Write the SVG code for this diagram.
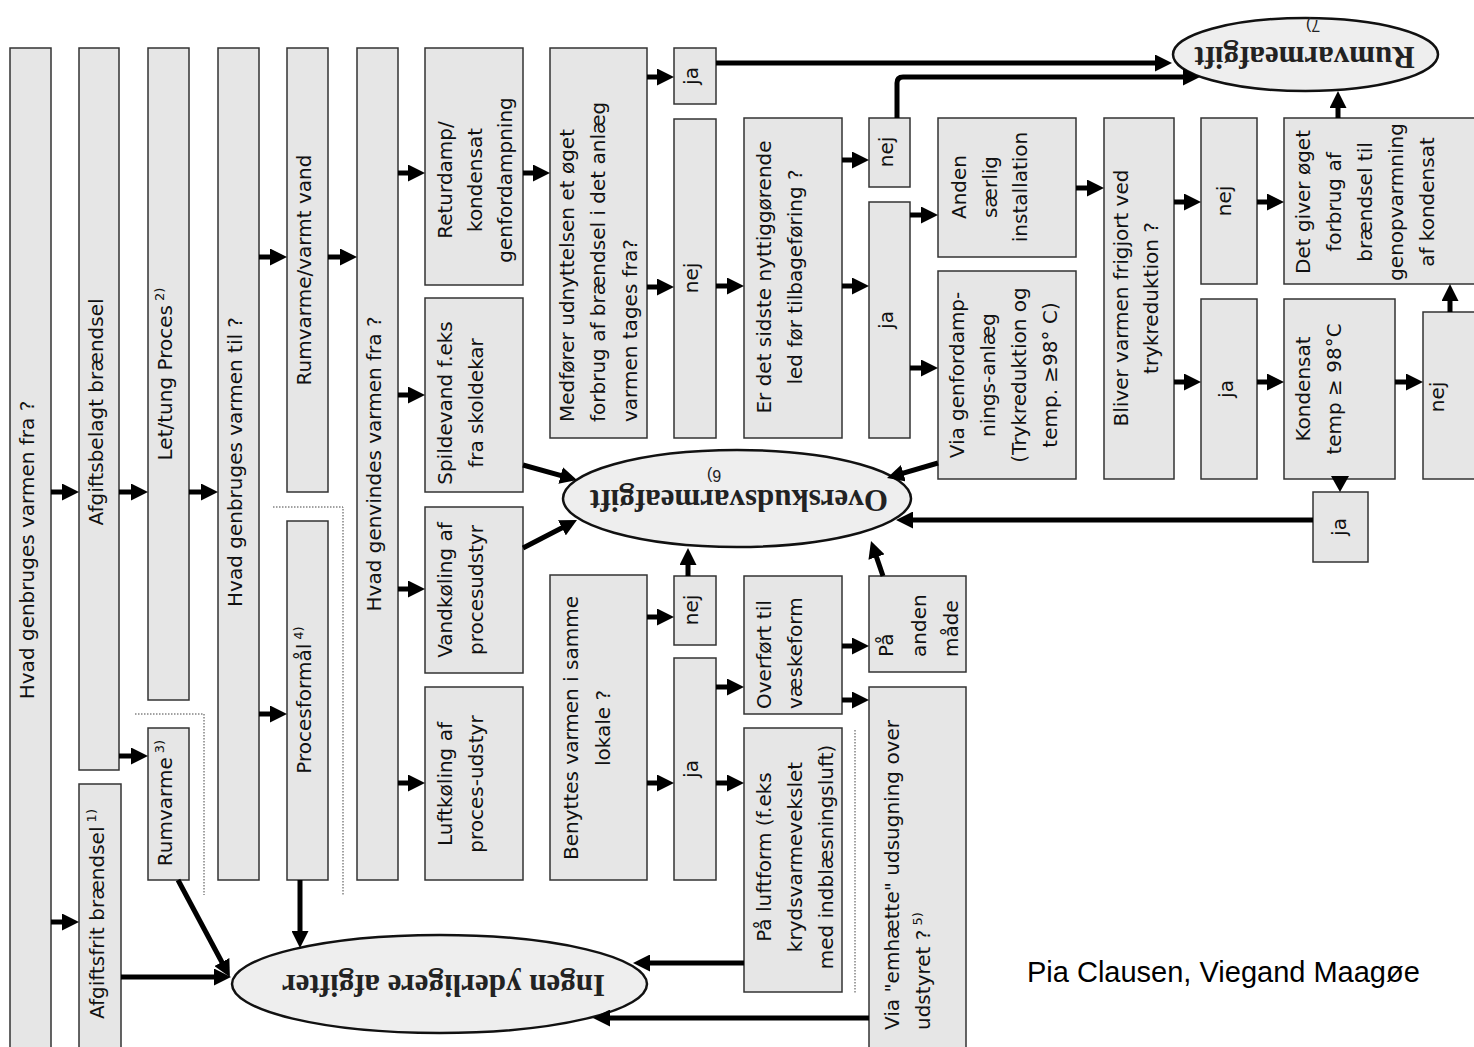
<svg xmlns="http://www.w3.org/2000/svg" width="1474" height="1047" viewBox="0 0 1474 1047">
<style>
.b{fill:#e6e6e6;stroke:#333;stroke-width:1.5}
.el{fill:#eeeeee;stroke:#111;stroke-width:2.5}
.t{font-family:"DejaVu Sans",sans-serif;font-size:20px;fill:#111}
.st{text-anchor:start}
.m{text-anchor:middle}
.s{font-size:13px}
.e{font-family:"Liberation Serif",serif;font-weight:bold;font-size:31px;fill:#222;text-anchor:middle}
.en{font-family:"Liberation Sans",sans-serif;font-size:16px;fill:#222;text-anchor:middle}
.c{stroke:#000;stroke-width:5;fill:none;marker-end:url(#ah)}
.d{stroke:#444;stroke-width:1;stroke-dasharray:1.5 1.5;fill:none}
</style>
<defs>
<marker id="ah" markerUnits="userSpaceOnUse" viewBox="0 0 17 17" markerWidth="17" markerHeight="17" refX="9" refY="8.5" orient="auto"><path d="M0,0 L17,8.5 L0,17 z" fill="#000"/></marker>
</defs>
<rect width="1474" height="1047" fill="#fff"/>

<g id="n1"><rect class="b" x="10" y="48" width="41" height="1002"/><text class="t m" transform="translate(34,550) rotate(-90)">Hvad genbruges varmen fra ?</text></g>
<g id="n2"><rect class="b" x="79" y="48" width="40" height="722"/><text class="t m" transform="translate(103,412) rotate(-90)">Afgiftsbelagt brændsel</text></g>
<g id="n3"><rect class="b" x="79" y="784" width="42" height="266"/><text class="t m" transform="translate(104,914) rotate(-90)">Afgiftsfrit brændsel<tspan class="s" dy="-8"> 1)</tspan></text></g>
<g id="n4"><rect class="b" x="148" y="48" width="41" height="652"/><text class="t m" transform="translate(172,374) rotate(-90)">Let/tung Proces<tspan class="s" dy="-8"> 2)</tspan></text></g>
<g id="n5"><rect class="b" x="148" y="728" width="41" height="152"/><text class="t m" transform="translate(172,803) rotate(-90)">Rumvarme<tspan class="s" dy="-8"> 3)</tspan></text></g>
<g id="n6"><rect class="b" x="218" y="48" width="41" height="832"/><text class="t m" transform="translate(242,462) rotate(-90)">Hvad genbruges varmen til ?</text></g>
<g id="n7"><rect class="b" x="287" y="48" width="41" height="444"/><text class="t m" transform="translate(311,270) rotate(-90)">Rumvarme/varmt vand</text></g>
<g id="n8"><rect class="b" x="287" y="521" width="41" height="359"/><text class="t m" transform="translate(311,700) rotate(-90)">Procesformål<tspan class="s" dy="-8"> 4)</tspan></text></g>
<g id="n9"><rect class="b" x="357" y="48" width="41" height="832"/><text class="t m" transform="translate(381,464) rotate(-90)">Hvad genvindes varmen fra ?</text></g>

<g id="n10"><rect class="b" x="425" y="48" width="98" height="237"/><text class="t m" transform="translate(452,180) rotate(-90)"><tspan x="0" y="0">Returdamp/</tspan><tspan x="0" y="30">kondensat</tspan><tspan x="0" y="60">genfordampning</tspan></text></g>
<g id="n11"><rect class="b" x="425" y="298" width="98" height="194"/><text class="t m" transform="translate(452,403) rotate(-90)"><tspan x="0" y="0">Spildevand f.eks</tspan><tspan x="0" y="31">fra skoldekar</tspan></text></g>
<g id="n12"><rect class="b" x="425" y="507" width="98" height="166"/><text class="t m" transform="translate(452,590) rotate(-90)"><tspan x="0" y="0">Vandkøling af</tspan><tspan x="0" y="31">procesudstyr</tspan></text></g>
<g id="n13"><rect class="b" x="425" y="687" width="98" height="193"/><text class="t m" transform="translate(452,784) rotate(-90)"><tspan x="0" y="0">Luftkøling af</tspan><tspan x="0" y="31">proces-udstyr</tspan></text></g>

<g id="n14"><rect class="b" x="550" y="48" width="97" height="390"/><text class="t st" transform="translate(574,422) rotate(-90)"><tspan x="0" y="0">Medfører udnyttelsen et øget</tspan><tspan x="0" y="31">forbrug af brændsel i det anlæg</tspan><tspan x="0" y="63">varmen tages fra?</tspan></text></g>
<g id="n15"><rect class="b" x="550" y="575" width="97" height="305"/><text class="t m" transform="translate(578,728) rotate(-90)"><tspan x="0" y="0">Benyttes varmen i samme</tspan><tspan x="0" y="32">lokale ?</tspan></text></g>

<g id="n16"><rect class="b" x="674" y="48" width="42" height="56"/><text class="t m" transform="translate(698,76) rotate(-90)">ja</text></g>
<g id="n17"><rect class="b" x="674" y="119" width="42" height="319"/><text class="t m" transform="translate(698,278) rotate(-90)">nej</text></g>
<g id="n18"><rect class="b" x="674" y="576" width="42" height="69"/><text class="t m" transform="translate(698,610) rotate(-90)">nej</text></g>
<g id="n19"><rect class="b" x="674" y="658" width="42" height="222"/><text class="t m" transform="translate(698,769) rotate(-90)">ja</text></g>

<g id="n20"><rect class="b" x="744" y="118" width="98" height="320"/><text class="t m" transform="translate(771,277) rotate(-90)"><tspan x="0" y="0">Er det sidste nyttiggørende</tspan><tspan x="0" y="31">led før tilbageføring ?</tspan></text></g>
<g id="n21"><rect class="b" x="869" y="118" width="41" height="69"/><text class="t m" transform="translate(893,152) rotate(-90)">nej</text></g>
<g id="n22"><rect class="b" x="869" y="202" width="41" height="236"/><text class="t m" transform="translate(893,320) rotate(-90)">ja</text></g>
<g id="n23"><rect class="b" x="938" y="118" width="138" height="139"/><text class="t m" transform="translate(966,187) rotate(-90)"><tspan x="0" y="0">Anden</tspan><tspan x="0" y="31">særlig</tspan><tspan x="0" y="61">installation</tspan></text></g>
<g id="n24"><rect class="b" x="938" y="271" width="138" height="208"/><text class="t m" transform="translate(964,375) rotate(-90)"><tspan x="0" y="0">Via genfordamp-</tspan><tspan x="0" y="31">nings-anlæg</tspan><tspan x="0" y="62">(Trykreduktion og</tspan><tspan x="0" y="93">temp. ≥98° C)</tspan></text></g>
<g id="n25"><rect class="b" x="1104" y="118" width="70" height="361"/><text class="t m" transform="translate(1128,298) rotate(-90)"><tspan x="0" y="0">Bliver varmen frigjort ved</tspan><tspan x="0" y="30">trykreduktion  ?</tspan></text></g>
<g id="n26"><rect class="b" x="1201" y="118" width="56" height="166"/><text class="t m" transform="translate(1231,201) rotate(-90)">nej</text></g>
<g id="n27"><rect class="b" x="1201" y="299" width="56" height="180"/><text class="t m" transform="translate(1233,389) rotate(-90)">ja</text></g>
<g id="n28"><rect class="b" x="1284" y="118" width="200" height="166"/><text class="t m" transform="translate(1310,202) rotate(-90)"><tspan x="0" y="0">Det giver øget</tspan><tspan x="0" y="31">forbrug af</tspan><tspan x="0" y="62">brændsel til</tspan><tspan x="0" y="93">genopvarmning</tspan><tspan x="0" y="124">af kondensat</tspan></text></g>
<g id="n29"><rect class="b" x="1284" y="299" width="111" height="180"/><text class="t m" transform="translate(1310,389) rotate(-90)"><tspan x="0" y="0">Kondensat</tspan><tspan x="0" y="31">temp ≥ 98°C</tspan></text></g>
<g id="n30"><rect class="b" x="1423" y="312" width="60" height="167"/><text class="t m" transform="translate(1444,397) rotate(-90)">nej</text></g>
<g id="n31"><rect class="b" x="1313" y="492" width="55" height="70"/><text class="t m" transform="translate(1346,527) rotate(-90)">ja</text></g>

<g id="n32"><rect class="b" x="744" y="576" width="98" height="138"/><text class="t st" transform="translate(771,709) rotate(-90)"><tspan x="0" y="0">Overført til</tspan><tspan x="0" y="31">væskeform</tspan></text></g>
<g id="n33"><rect class="b" x="869" y="576" width="97" height="96"/><text class="t st" transform="translate(893,657) rotate(-90)"><tspan x="0" y="0">På</tspan><tspan x="0" y="33">anden</tspan><tspan x="0" y="65">måde</tspan></text></g>
<g id="n34"><rect class="b" x="744" y="728" width="98" height="264"/><text class="t m" transform="translate(771,857) rotate(-90)"><tspan x="0" y="0">På luftform (f.eks</tspan><tspan x="0" y="31">krydsvarmevekslet</tspan><tspan x="0" y="62">med indblæsningsluft)</tspan></text></g>
<g id="n35"><rect class="b" x="869" y="687" width="97" height="365"/><text class="t st" transform="translate(899,1030) rotate(-90)"><tspan x="0" y="0">Via "emhætte" udsugning over</tspan><tspan x="0" y="31">udstyret ?<tspan class="s" dy="-8"> 5)</tspan></tspan></text></g>

<g id="e1"><ellipse class="el" cx="1305.5" cy="54.5" rx="132.5" ry="36.5"/><text class="e" transform="rotate(180 1304.5 47)" x="1304.5" y="47">Rumvarmeafgift</text><text class="en" transform="rotate(180 1313 20)" x="1313" y="20">7)</text></g>
<g id="e2"><ellipse class="el" cx="737" cy="498.5" rx="174" ry="48.5"/><text class="e" transform="rotate(180 739 490)" x="739" y="490">Overskudsvarmeafgift</text><text class="en" transform="rotate(180 714 470)" x="714" y="470">6)</text></g>
<g id="e3"><ellipse class="el" cx="439.5" cy="984" rx="207.5" ry="49"/><text class="e" transform="rotate(180 443.5 975)" x="443.5" y="975">Ingen yderligere afgifter</text></g>

<g id="dotted">
<polyline class="d" points="135,714 204,714 204,895"/>
<polyline class="d" points="273,507 343,507 343,895"/>
<line class="d" x1="855" y1="730" x2="855" y2="993"/>
</g>

<g id="connectors">
<line class="c" x1="51" y1="492" x2="71" y2="492"/>
<line class="c" x1="51" y1="922" x2="71" y2="922"/>
<line class="c" x1="119" y1="492" x2="140" y2="492"/>
<line class="c" x1="119" y1="756" x2="140" y2="756"/>
<line class="c" x1="189" y1="492" x2="210" y2="492"/>
<line class="c" x1="259" y1="257" x2="279" y2="257"/>
<line class="c" x1="259" y1="714" x2="279" y2="714"/>
<line class="c" x1="328" y1="257" x2="349" y2="257"/>
<line class="c" x1="398" y1="173" x2="417" y2="173"/>
<line class="c" x1="398" y1="395" x2="417" y2="395"/>
<line class="c" x1="398" y1="589" x2="417" y2="589"/>
<line class="c" x1="398" y1="783" x2="417" y2="783"/>
<line class="c" x1="523" y1="173" x2="542" y2="173"/>
<line class="c" x1="647" y1="77" x2="666" y2="77"/>
<line class="c" x1="647" y1="287" x2="666" y2="287"/>
<line class="c" x1="716" y1="286" x2="736" y2="286"/>
<line class="c" x1="842" y1="160" x2="861" y2="160"/>
<line class="c" x1="842" y1="286" x2="861" y2="286"/>
<line class="c" x1="910" y1="215" x2="930" y2="215"/>
<line class="c" x1="910" y1="368" x2="930" y2="368"/>
<line class="c" x1="1076" y1="188" x2="1096" y2="188"/>
<line class="c" x1="1174" y1="202" x2="1193" y2="202"/>
<line class="c" x1="1174" y1="382" x2="1193" y2="382"/>
<line class="c" x1="1257" y1="202" x2="1276" y2="202"/>
<line class="c" x1="1257" y1="382" x2="1276" y2="382"/>
<line class="c" x1="1395" y1="382" x2="1415" y2="382"/>
<line class="c" x1="647" y1="617" x2="666" y2="617"/>
<line class="c" x1="647" y1="783" x2="666" y2="783"/>
<line class="c" x1="716" y1="687" x2="736" y2="687"/>
<line class="c" x1="716" y1="783" x2="736" y2="783"/>
<line class="c" x1="842" y1="646" x2="861" y2="646"/>
<line class="c" x1="842" y1="700" x2="861" y2="700"/>
<line class="c" x1="716" y1="63" x2="1164" y2="63"/>
<path class="c" d="M897,118 V83 Q897,77 903,77 H1192"/>
<polygon points="1331,476 1349,476 1340,492" fill="#000"/>
<line class="c" x1="1450" y1="312" x2="1450" y2="292"/>
<line class="c" x1="1338" y1="118" x2="1338" y2="99"/>
<line class="c" x1="688" y1="576" x2="688" y2="556"/>
<line class="c" x1="300" y1="880" x2="300" y2="940"/>
<line class="c" x1="523" y1="465" x2="569.3" y2="477.9"/>
<line class="c" x1="523" y1="548" x2="569.9" y2="523.7"/>
<line class="c" x1="883" y1="576" x2="873.6" y2="548.6"/>
<line class="c" x1="938" y1="463" x2="894.7" y2="475.7"/>
<line class="c" x1="1313" y1="520" x2="904" y2="520"/>
<line class="c" x1="178" y1="880" x2="226.1" y2="970"/>
<line class="c" x1="121" y1="977" x2="223" y2="977"/>
<line class="c" x1="744" y1="963" x2="641" y2="963"/>
<line class="c" x1="869" y1="1018" x2="601" y2="1018"/>
</g>

<text x="1027" y="982" font-family="Liberation Sans, sans-serif" font-size="29" fill="#000">Pia Clausen, Viegand Maagøe</text>
</svg>
